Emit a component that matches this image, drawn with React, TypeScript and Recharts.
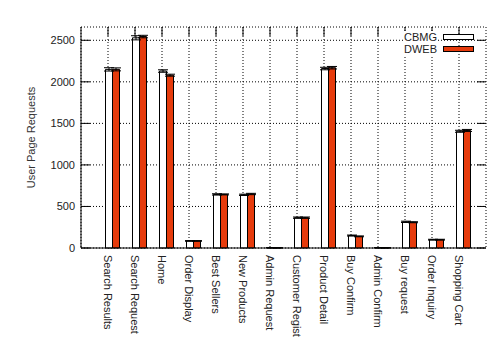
import React from 'react';
import { BarChart, Bar, XAxis, YAxis, CartesianGrid, ErrorBar } from 'recharts';

const PAGES = [
  'Search Results', 'Search Request', 'Home', 'Order Display', 'Best Sellers', 'New Products',
  'Admin Request', 'Customer Regist', 'Product Detail', 'Buy Confirm', 'Admin Confirm',
  'Buy request', 'Order Inquiry', 'Shopping Cart',
];
const CBMG = [2150, 2530, 2130, 85, 645, 640, 3, 365, 2160, 150, 3, 315, 100, 1405];
const DWEB = [2150, 2545, 2080, 85, 645, 650, 2, 365, 2170, 140, 2, 310, 100, 1415];
const CBMG_ERR = [20, 25, 15, 4, 8, 8, 1, 8, 15, 6, 1, 8, 5, 12];
const DWEB_ERR = [18, 15, 12, 4, 6, 8, 1, 8, 15, 5, 1, 6, 5, 12];
const Y_TICKS = [0, 500, 1000, 1500, 2000, 2500];
const SERIES = [
  { name: 'CBMG', fill: '#fff' },
  { name: 'DWEB', fill: '#E63B0C' },
];

const data = PAGES.map((name, i) => ({
  name,
  cbmg: CBMG[i],
  dweb: DWEB[i],
  cbmgErr: CBMG_ERR[i],
  dwebErr: DWEB_ERR[i],
}));

const RED = '#E63B0C';
const PLOT_LEFT = 81;
const PLOT_RIGHT = 486;
const PLOT_TOP = 27;
const PLOT_BOTTOM = 248;
const TICK_LEN = 9;
const FONT = '"Liberation Sans", Arial, sans-serif';

const YTick = (props: any) => {
  const { y, payload } = props;
  return (
    <g>
      <line x1={PLOT_LEFT} x2={PLOT_LEFT + TICK_LEN} y1={y} y2={y} stroke="#000" />
      <line x1={PLOT_RIGHT - TICK_LEN} x2={PLOT_RIGHT} y1={y} y2={y} stroke="#000" />
      <text x={PLOT_LEFT - 6} y={y} textAnchor="end" dominantBaseline="central" fontSize={11} fill="#222">
        {payload.value}
      </text>
    </g>
  );
};

const XTick = (props: any) => {
  const { x, payload } = props;
  return (
    <g>
      <line x1={x} x2={x} y1={PLOT_TOP} y2={PLOT_TOP + TICK_LEN} stroke="#000" />
      <text
        x={x}
        y={PLOT_BOTTOM + 7}
        transform={`rotate(90, ${x}, ${PLOT_BOTTOM + 7})`}
        textAnchor="start"
        dominantBaseline="central"
        fontSize={11}
        fill="#222"
      >
        {payload.value}
      </text>
    </g>
  );
};

const App: React.FC = () => {
  return (
    <div style={{ position: 'absolute', left: 0, top: 0, width: 500, height: 357, background: '#fff', fontFamily: FONT }}>
      <BarChart
        width={500}
        height={357}
        data={data}
        margin={{ top: PLOT_TOP, right: 14, bottom: 9, left: 31 }}
        barGap={0}
        barCategoryGap={0}
        style={{ fontFamily: FONT }}
      >
        <CartesianGrid stroke="#000" strokeDasharray="1 2" strokeWidth={1} />
        <XAxis
          dataKey="name"
          interval={0}
          height={100}
          padding={{ left: 13.5, right: 13.5 }}
          axisLine={{ stroke: '#000' }}
          tickLine={false}
          tick={<XTick />}
        />
        <XAxis xAxisId="bars" dataKey="name" hide padding={{ left: 17.5, right: 9.5 }} />
        <XAxis xAxisId="top" dataKey="name" orientation="top" height={0} tick={false} tickLine={false} axisLine={{ stroke: '#000' }} />
        <YAxis
          domain={[0, 2660]}
          ticks={Y_TICKS}
          width={50}
          axisLine={{ stroke: '#000' }}
          tickLine={false}
          tick={<YTick />}
          label={{
            value: 'User Page Requests',
            angle: -90,
            position: 'insideLeft',
            offset: 0,
            style: { textAnchor: 'middle', fontSize: 11, fill: '#333', fontFamily: FONT },
          }}
        />
        <YAxis yAxisId="right" orientation="right" domain={[0, 2660]} width={0} tick={false} tickLine={false} axisLine={{ stroke: '#000' }} />
        <Bar dataKey="cbmg" name="CBMG" xAxisId="bars" fill="#fff" stroke="#000" strokeWidth={1} barSize={7} isAnimationActive={false}>
          <ErrorBar dataKey="cbmgErr" width={5} stroke="#000" strokeWidth={1} direction="y" />
        </Bar>
        <Bar dataKey="dweb" name="DWEB" xAxisId="bars" fill={RED} stroke="#000" strokeWidth={1} barSize={7} isAnimationActive={false}>
          <ErrorBar dataKey="dwebErr" width={5} stroke="#000" strokeWidth={1} direction="y" />
        </Bar>
      </BarChart>
      {SERIES.map((s, i) => (
        <React.Fragment key={s.name}>
          <div
            style={{
              position: 'absolute',
              right: 63,
              top: 31 + i * 11.5,
              fontSize: 11,
              lineHeight: '12px',
              color: '#222',
              background: '#fff',
            }}
          >
            {s.name}
          </div>
          <div
            style={{
              position: 'absolute',
              left: 443,
              top: 34 + i * 11.5,
              width: 29,
              height: 4,
              background: s.fill,
              border: '1px solid #000',
            }}
          />
        </React.Fragment>
      ))}
    </div>
  );
};

export default App;
